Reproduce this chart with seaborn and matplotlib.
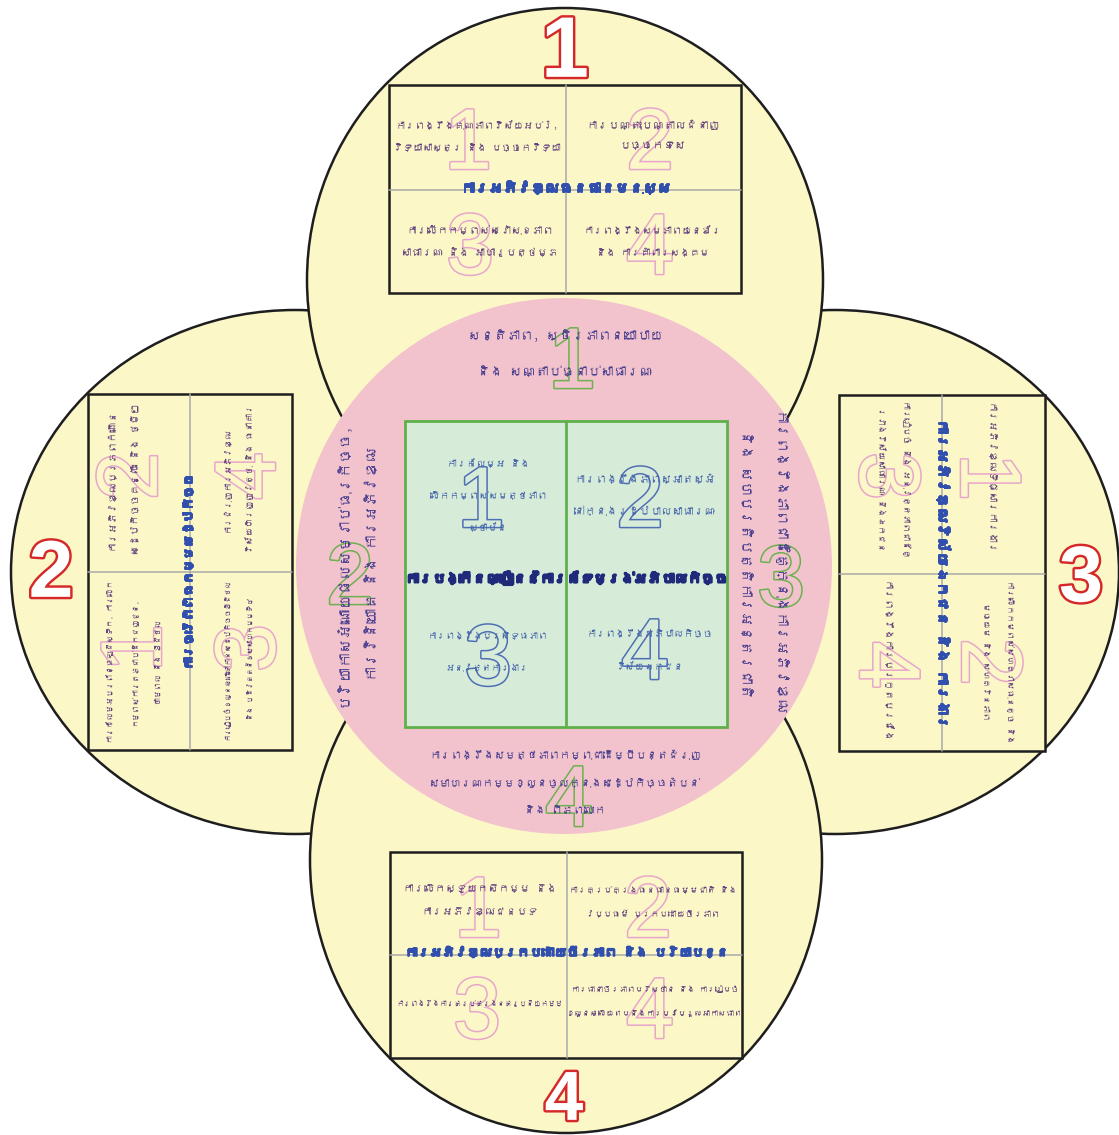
import matplotlib
matplotlib.use("Agg")
import matplotlib.pyplot as plt
import matplotlib.patches as mpatches
import matplotlib.patheffects as pe
from matplotlib import font_manager as fm, ft2font
import seaborn as sns

# ---------------- data (text content of the diagram) ----------------
core_title = "ការបង្កើនល្បឿននៃការកែទម្រង់អភិបាលកិច្ច"
core_items = [
    "ការកែលម្អ និង\nលើកកម្ពស់សមត្ថភាព\nស្ថាប័ន",
    "ការពង្រឹងភាពស្អាតស្អំ\nនៅក្នុងរដ្ឋបាលសាធារណៈ",
    "ការពង្រឹងប្រសិទ្ធភាព\nអនុវត្តការងារ",
    "ការពង្រឹងអភិបាលកិច្ច\nវិស័យឯកជន",
]
ring_texts = [
    "សន្តិភាព, ស្ថិរភាពនយោបាយ\nនិង សណ្តាប់ធ្នាប់សាធារណៈ",
    "បរិយាកាសអំណោយផលសម្រាប់ធុរកិច្ច,\nការវិនិយោគ និង ការអភិវឌ្ឍ",
    "ការពង្រឹងភាពជាដៃគូក្នុងការអភិវឌ្ឍ\nនិង សហប្រតិបត្តិការអន្តរជាតិ",
    "ការពង្រឹងសមត្ថភាពកម្ពុជាដើម្បីបន្តជំរុញ\nសមាហរណកម្មខ្លួនចូលក្នុងសេដ្ឋកិច្ចតំបន់\nនិង ពិភពលោក",
]
pillar_titles = [
    "ការអភិវឌ្ឍធនធានមនុស្ស",
    "ការធ្វើពិពិធកម្មសេដ្ឋកិច្ច",
    "ការអភិវឌ្ឍវិស័យឯកជន និង ការងារ",
    "ការអភិវឌ្ឍប្រកបដោយចីរភាព និង បរិយាបន្ន",
]
pillar1_items = [
    "ការពង្រឹងគុណភាពវិស័យអប់រំ,\nវិទ្យាសាស្ត្រ និង បច្ចេកវិទ្យា",
    "ការបណ្តុះបណ្តាលជំនាញ\nបច្ចេកទេស",
    "ការលើកកម្ពស់សេវាសុខភាព\nសាធារណៈ និង អាហារូបត្ថម្ភ",
    "ការពង្រឹងសមភាពយេនឌ័រ\nនិង ការគាំពារសង្គម",
]
pillar2_items = [
    "ការកែលម្អប្រព័ន្ធឡូជីស្ទិក, ការលើក\nកម្ពស់ការតភ្ជាប់ដឹកជញ្ជូន,\nថាមពល និង ឌីជីថល",
    "ការអភិវឌ្ឍប្រភពកំណើន\nសេដ្ឋកិច្ចគន្លឹះ និង ថ្មីៗ",
    "ការរៀបចំខ្លួនឆ្ពោះទៅកាន់សេដ្ឋកិច្ចឌីជីថល\nនិង បដិវត្តន៍ឧស្សាហកម្មទី៤",
    "ការជំរុញការអភិវឌ្ឍ\nវិស័យហិរញ្ញវត្ថុ និង ធនាគារ",
]
pillar3_items = [
    "ការអភិវឌ្ឍទីផ្សារការងារ",
    "ការលើកកម្ពស់សហគ្រាសធុនតូច និង\nមធ្យម និង សហគ្រិនភាព",
    "ការរៀបចំ និង អនុវត្តភាពជាដៃគូ\nរវាងវិស័យសាធារណៈ និងឯកជន",
    "ការពង្រឹងការប្រកួតប្រជែង",
]
pillar4_items = [
    "ការលើកស្ទួយកសិកម្ម និង\nការអភិវឌ្ឍជនបទ",
    "ការគ្រប់គ្រងធនធានធម្មជាតិ និង\nវប្បធម៌ ប្រកបដោយចីរភាព",
    "ការពង្រឹងការគ្រប់គ្រងនគរូបនីយកម្ម",
    "ការធានាចីរភាពបរិស្ថាន និង ការរៀបចំ\nខ្លួនឆ្លើយតបនឹងការប្រែប្រួលអាកាសធាតុ",
]
numbers = ["1", "2", "3", "4"]

# ---------------- fonts: use an installed family that has Khmer ----------------
khmer_families = []
for entry in fm.fontManager.ttflist:
    try:
        if 0x1780 in ft2font.FT2Font(entry.fname).get_charmap():
            if entry.name not in khmer_families:
                khmer_families.append(entry.name)
    except Exception:
        pass
TEXT_FAMILIES = khmer_families[:1] + ["DejaVu Sans"]

# ---------------- style ----------------
sns.set_theme(style="white")
plt.rcParams["font.family"] = TEXT_FAMILIES

YELLOW = "#fbf7c7"
PINK = "#f3c3cd"
GREEN_FILL = "#d7ecd8"
GREEN_EDGE = "#5eb14a"
OUTLINE = "#1e1e1e"
DIVIDER = "#a9a9a9"
CELL_TXT = "#66447e"
TITLE_BLUE = "#3150ad"
RING_TXT = "#4a3f8f"
CORE_TXT = "#4767aa"
CORE_TITLE = "#1f2b7a"
PINK_NUM = "#e8a6cc"
GREEN_NUM = "#6cb04f"
BLUE_NUM = "#4f6fb5"
RED = "#d62828"

W, H = 1119, 1135
fig = plt.figure(figsize=(W / 100, H / 100), dpi=100)
fig.patch.set_facecolor("white")
ax = fig.add_axes([0, 0, 1, 1])
ax.set_xlim(0, W)
ax.set_ylim(H, 0)
ax.axis("off")
renderer = fig.canvas.get_renderer()


def down_vec(rot):
    if rot == 0:
        return 0, 1
    if rot == 90:
        return 1, 0
    return -1, 0


def put_lines(x, y, text, color, target, rot=0, gap=22, bold=0.0, z=8):
    """Draw a multi-line label; scale the font so its longest line spans `target` px."""
    lines = text.split("\n")
    n = len(lines)
    dx, dy = down_vec(rot)
    effects = ([pe.Stroke(linewidth=bold, foreground=color), pe.Normal()]
               if bold else None)
    arts = []
    for i, ln in enumerate(lines):
        off = (i - (n - 1) / 2) * gap
        t = ax.text(x + dx * off, y + dy * off, ln, fontsize=12, color=color,
                    ha="center", va="center", rotation=rot,
                    rotation_mode="anchor", zorder=z, family=TEXT_FAMILIES,
                    path_effects=effects)
        arts.append(t)
    longest = 0
    for t in arts:
        bb = t.get_window_extent(renderer)
        longest = max(longest, bb.width if rot == 0 else bb.height)
    if longest > 0:
        size = 12 * target / longest
        for t in arts:
            t.set_fontsize(size)
    return arts


def digit(x, y, s, size, edge, lw, fill, rot=0, weight="normal", z=5):
    cap = 0.716 * size * 100 / 72
    dx, dy = down_vec(rot)
    ax.text(x + dx * cap / 2, y + dy * cap / 2, s, fontsize=size, color=fill,
            ha="center", va="baseline", rotation=rot, rotation_mode="anchor",
            fontweight=weight, family="Liberation Sans", zorder=z,
            path_effects=[pe.Stroke(linewidth=lw, foreground=edge), pe.Normal()])


# ---------------- outer lobes ----------------
for (cx, cy, w, h, z) in [(295, 572, 568, 524, 1), (835, 572, 568, 524, 1),
                          (565, 280, 516, 544, 2), (566, 860, 512, 546, 2)]:
    ax.add_patch(mpatches.Ellipse((cx, cy), w, h, fc=YELLOW, ec=OUTLINE,
                                  lw=1.8, zorder=z))
ax.add_patch(mpatches.Circle((564, 566), 268, fc=PINK, ec="none", zorder=3))

# ---------------- pillar boxes ----------------
pillars = [
    dict(items=pillar1_items, rect=(389, 85, 741, 293), div=(566, 190), rot=0,
         text=[(477, 136), (653, 135), (480, 241), (653, 241)],
         widths=[167, 133, 157, 138], gap=22,
         nums=[(468, 138), (650, 138), (470, 243), (650, 243)],
         title=(566, 188), tlen=210, red=(565, 46), rsize=62),
    dict(items=pillar2_items, rect=(88, 394, 292, 750), div=(190, 572), rot=90,
         text=[(134, 662), (123, 479), (238, 659), (238, 479)],
         widths=[162, 152, 162, 148], gap=24,
         nums=[(130, 648), (126, 476), (244, 648), (244, 476)],
         title=(188, 572), tlen=196, red=(51, 568), rsize=58),
    dict(items=pillar3_items, rect=(839, 395, 1045, 751), div=(942, 574), rot=-90,
         text=[(990, 479), (998, 662), (894, 479), (887, 662)],
         widths=[152, 162, 158, 162], gap=25,
         nums=[(992, 477), (993, 662), (891, 476), (891, 665)],
         title=(943, 574), tlen=310, red=(1081, 573), rsize=57),
    dict(items=pillar4_items, rect=(390, 852, 742, 1058), div=(567, 955), rot=0,
         text=[(480, 900), (653, 902), (480, 1003), (655, 1001)],
         widths=[153, 167, 167, 175], gap=24,
         nums=[(478, 906), (648, 906), (477, 1007), (650, 1007)],
         title=(566, 952), tlen=323, red=(564, 1095), rsize=50),
]

for k, p in enumerate(pillars):
    x0, y0, x1, y1 = p["rect"]
    ax.add_patch(mpatches.Rectangle((x0, y0), x1 - x0, y1 - y0, fc=YELLOW,
                                    ec=OUTLINE, lw=1.8, zorder=4))
    dvx, dvy = p["div"]
    ax.plot([dvx, dvx], [y0, y1], color=DIVIDER, lw=1.1, zorder=4.5)
    ax.plot([x0, x1], [dvy, dvy], color=DIVIDER, lw=1.1, zorder=4.5)
    rot = p["rot"]
    for i in range(4):
        nx, ny = p["nums"][i]
        digit(nx, ny, numbers[i], 62, PINK_NUM, 2.2, YELLOW, rot=rot, z=5)
        tx, ty = p["text"][i]
        put_lines(tx, ty, p["items"][i], CELL_TXT, p["widths"][i], rot=rot,
                  gap=p["gap"], z=8)
    put_lines(p["title"][0], p["title"][1], pillar_titles[k], TITLE_BLUE,
              p["tlen"], rot=rot, bold=1.4, z=9)
    rx, ry = p["red"]
    digit(rx, ry, numbers[k], p["rsize"], RED, 3.5, "white", weight="bold", z=6)

# ---------------- ring (pink circle) ----------------
ring = [
    dict(pos=(565, 354), rot=0, num=(572, 357), gap=37, width=195),
    dict(pos=(357, 564), rot=90, num=(350, 573), gap=31, width=285),
    dict(pos=(762, 564), rot=-90, num=(781, 575), gap=34, width=303),
    dict(pos=(565, 782), rot=0, num=(569, 795), gap=28, width=272),
]
for k, r in enumerate(ring):
    digit(r["num"][0], r["num"][1], numbers[k], 62, GREEN_NUM, 2.2, PINK, z=5)
    put_lines(r["pos"][0], r["pos"][1], ring_texts[k], RING_TXT, r["width"],
              rot=r["rot"], gap=r["gap"], z=8)

# ---------------- core square ----------------
ax.add_patch(mpatches.Rectangle((405, 421), 322, 306, fc=GREEN_FILL,
                                ec=GREEN_EDGE, lw=2.0, zorder=4))
ax.plot([566, 566], [421, 727], color=GREEN_EDGE, lw=2.0, zorder=4.5)
core_text_pos = [(488, 495), (645, 495), (488, 652), (650, 650)]
core_widths = [117, 141, 120, 127]
core_num_pos = [(481, 496), (640, 496), (488, 654), (645, 648)]
for i in range(4):
    digit(core_num_pos[i][0], core_num_pos[i][1], numbers[i], 62, BLUE_NUM,
          2.2, GREEN_FILL, z=5)
    put_lines(core_text_pos[i][0], core_text_pos[i][1], core_items[i],
              CORE_TXT, core_widths[i], gap=32, z=8)
put_lines(566, 578, core_title, CORE_TITLE, 322, bold=1.8, z=9)

fig.savefig("out.png", dpi=100, facecolor="white")
